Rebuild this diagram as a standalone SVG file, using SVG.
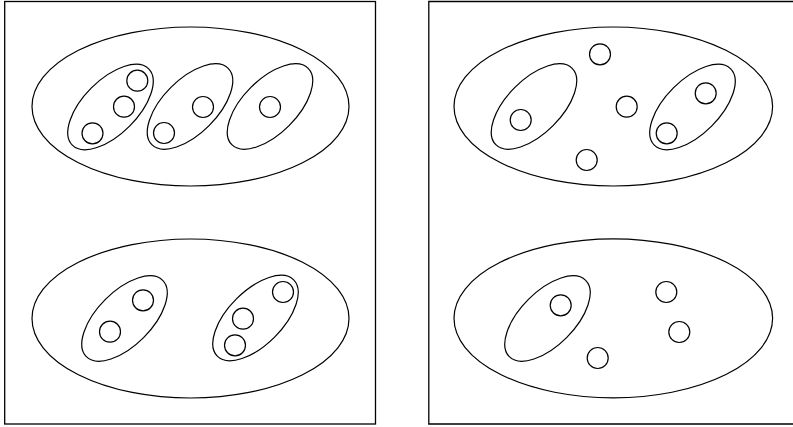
<svg xmlns="http://www.w3.org/2000/svg" width="793" height="427" viewBox="0 0 793 427">
<style>
.s{fill:none;stroke:#000;stroke-width:1.2}
.p{fill:none;stroke:#000;stroke-width:1.3}
</style>
<defs>
<ellipse id="grp" cx="0" cy="0" rx="54" ry="27" transform="rotate(-45)"/>
</defs>
<rect x="0" y="0" width="793" height="427" fill="#fff"/>
<g id="panel-left">
<rect class="p" x="4.7" y="1.5" width="370.8" height="422.5"/>
</g>
<g id="panel-right">
<path class="p" d="M795,1.5 H428.8 V424 H795"/>
</g>
<g id="set-left-top">
<ellipse class="s" cx="190.5" cy="106.5" rx="158.5" ry="79.5"/>
<g id="lt-g1"><use href="#grp" class="s" x="110.5" y="107"/>
<circle class="s" cx="137.3" cy="80.7" r="10.5"/>
<circle class="s" cx="124" cy="106.7" r="10.5"/>
<circle class="s" cx="92.5" cy="133.3" r="10.5"/></g>
<g id="lt-g2"><use href="#grp" class="s" x="190" y="106.5"/>
<circle class="s" cx="203" cy="107" r="10.5"/>
<circle class="s" cx="164" cy="133" r="10.5"/></g>
<g id="lt-g3"><use href="#grp" class="s" x="270" y="106.5"/>
<circle class="s" cx="270" cy="107" r="10.5"/></g>
</g>
<g id="set-left-bottom">
<ellipse class="s" cx="190.5" cy="318.5" rx="158.5" ry="79.5"/>
<g id="lb-g1"><use href="#grp" class="s" x="124.5" y="318.5"/>
<circle class="s" cx="143" cy="300.3" r="10.5"/>
<circle class="s" cx="110" cy="331.7" r="10.5"/></g>
<g id="lb-g2"><use href="#grp" class="s" x="255.5" y="318"/>
<circle class="s" cx="283" cy="292" r="10.5"/>
<circle class="s" cx="243" cy="318.7" r="10.5"/>
<circle class="s" cx="235" cy="345.3" r="10.5"/></g>
</g>
<g id="set-right-top">
<ellipse class="s" cx="613.3" cy="106.5" rx="159.3" ry="79.5"/>
<g id="rt-g1"><use href="#grp" class="s" x="534" y="106.5"/>
<circle class="s" cx="520.7" cy="120" r="10.5"/></g>
<g id="rt-g2"><use href="#grp" class="s" x="692.5" y="107"/>
<circle class="s" cx="705.7" cy="93.3" r="10.5"/>
<circle class="s" cx="666.7" cy="133.3" r="10.5"/></g>
<circle class="s" cx="600" cy="54.3" r="10.5"/>
<circle class="s" cx="626.7" cy="106.7" r="10.5"/>
<circle class="s" cx="586.7" cy="160" r="10.5"/>
</g>
<g id="set-right-bottom">
<ellipse class="s" cx="613.3" cy="318.3" rx="159.3" ry="79.5"/>
<g id="rb-g1"><use href="#grp" class="s" x="547.5" y="318.5"/>
<circle class="s" cx="560.7" cy="305.3" r="10.5"/></g>
<circle class="s" cx="666.3" cy="292" r="10.5"/>
<circle class="s" cx="679.3" cy="332" r="10.5"/>
<circle class="s" cx="597.7" cy="358" r="10.5"/>
</g>
<g id="connectors"></g>
</svg>
